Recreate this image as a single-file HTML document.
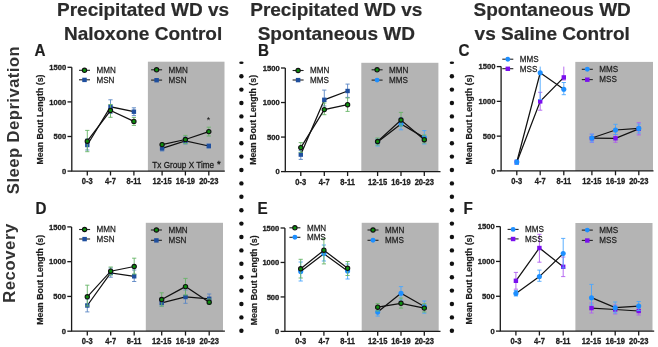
<!DOCTYPE html>
<html><head><meta charset="utf-8"><style>
html,body{margin:0;padding:0;background:#fff;width:658px;height:347px;overflow:hidden}
svg{display:block;will-change:transform;font-family:"Liberation Sans",sans-serif}
</style></head><body>
<svg width="658" height="347" viewBox="0 0 658 347">
<text x="143.1" y="15.9" font-size="19.0" font-weight="bold" text-anchor="middle" fill="#2b2b2b" stroke="#2b2b2b" stroke-width="0.2">Precipitated WD vs</text>
<text x="143.1" y="39.6" font-size="19.0" font-weight="bold" text-anchor="middle" fill="#2b2b2b" stroke="#2b2b2b" stroke-width="0.2">Naloxone Control</text>
<text x="336.3" y="15.9" font-size="19.0" font-weight="bold" text-anchor="middle" fill="#2b2b2b" stroke="#2b2b2b" stroke-width="0.2">Precipitated WD vs</text>
<text x="336.3" y="39.6" font-size="19.0" font-weight="bold" text-anchor="middle" fill="#2b2b2b" stroke="#2b2b2b" stroke-width="0.2">Spontaneous WD</text>
<text x="552.2" y="15.9" font-size="19.0" font-weight="bold" text-anchor="middle" fill="#2b2b2b" stroke="#2b2b2b" stroke-width="0.2">Spontaneous WD</text>
<text x="552.2" y="39.6" font-size="19.0" font-weight="bold" text-anchor="middle" fill="#2b2b2b" stroke="#2b2b2b" stroke-width="0.2">vs Saline Control</text>
<text transform="translate(18.8 120) rotate(-90)" font-size="16.6" letter-spacing="0.48" font-weight="bold" text-anchor="middle" fill="#333">Sleep Deprivation</text>
<text transform="translate(14.7 263.0) rotate(-90)" font-size="16.6" letter-spacing="0.62" font-weight="bold" text-anchor="middle" fill="#333">Recovery</text>
<text transform="translate(34.6 56.1) scale(0.93 1)" font-size="16.4" font-weight="bold" fill="#1e1e1e" stroke="#1e1e1e" stroke-width="0.2">A</text>
<text transform="translate(258.0 56.1) scale(0.93 1)" font-size="16.4" font-weight="bold" fill="#1e1e1e" stroke="#1e1e1e" stroke-width="0.2">B</text>
<text transform="translate(458.6 56.1) scale(0.93 1)" font-size="16.4" font-weight="bold" fill="#1e1e1e" stroke="#1e1e1e" stroke-width="0.2">C</text>
<text transform="translate(35.4 214.0) scale(0.93 1)" font-size="16.4" font-weight="bold" fill="#1e1e1e" stroke="#1e1e1e" stroke-width="0.2">D</text>
<text transform="translate(257.6 214.0) scale(0.93 1)" font-size="16.4" font-weight="bold" fill="#1e1e1e" stroke="#1e1e1e" stroke-width="0.2">E</text>
<text transform="translate(463.6 213.5) scale(0.93 1)" font-size="16.4" font-weight="bold" fill="#1e1e1e" stroke="#1e1e1e" stroke-width="0.2">F</text>
<rect x="147.9" y="61.7" width="76.6" height="109.39999999999999" fill="#b4b4b4"/>
<path d="M71.8 67.3 V171.1 H224.8" fill="none" stroke="#1a1a1a" stroke-width="1.3"/>
<line x1="67.5" y1="171.1" x2="71.8" y2="171.1" stroke="#1a1a1a" stroke-width="1.3"/>
<text x="66.2" y="173.79999999999998" font-size="7.6" font-weight="bold" text-anchor="end" fill="#1e1e1e" stroke="#1e1e1e" stroke-width="0.3">0</text>
<line x1="67.5" y1="136.5" x2="71.8" y2="136.5" stroke="#1a1a1a" stroke-width="1.3"/>
<text x="66.2" y="139.2" font-size="7.6" font-weight="bold" text-anchor="end" fill="#1e1e1e" stroke="#1e1e1e" stroke-width="0.3">500</text>
<line x1="67.5" y1="101.89999999999999" x2="71.8" y2="101.89999999999999" stroke="#1a1a1a" stroke-width="1.3"/>
<text x="66.2" y="104.6" font-size="7.6" font-weight="bold" text-anchor="end" fill="#1e1e1e" stroke="#1e1e1e" stroke-width="0.3">1000</text>
<line x1="67.5" y1="67.3" x2="71.8" y2="67.3" stroke="#1a1a1a" stroke-width="1.3"/>
<text x="66.2" y="70.0" font-size="7.6" font-weight="bold" text-anchor="end" fill="#1e1e1e" stroke="#1e1e1e" stroke-width="0.3">1500</text>
<line x1="87.3" y1="171.1" x2="87.3" y2="175.5" stroke="#1a1a1a" stroke-width="1.3"/>
<text transform="translate(87.3 184.1) scale(0.89 1)" font-size="8.5" font-weight="bold" text-anchor="middle" fill="#1e1e1e" stroke="#1e1e1e" stroke-width="0.3">0-3</text>
<line x1="110.5" y1="171.1" x2="110.5" y2="175.5" stroke="#1a1a1a" stroke-width="1.3"/>
<text transform="translate(110.5 184.1) scale(0.89 1)" font-size="8.5" font-weight="bold" text-anchor="middle" fill="#1e1e1e" stroke="#1e1e1e" stroke-width="0.3">4-7</text>
<line x1="133.9" y1="171.1" x2="133.9" y2="175.5" stroke="#1a1a1a" stroke-width="1.3"/>
<text transform="translate(133.9 184.1) scale(0.89 1)" font-size="8.5" font-weight="bold" text-anchor="middle" fill="#1e1e1e" stroke="#1e1e1e" stroke-width="0.3">8-11</text>
<line x1="162.1" y1="171.1" x2="162.1" y2="175.5" stroke="#1a1a1a" stroke-width="1.3"/>
<text transform="translate(162.1 184.1) scale(0.89 1)" font-size="8.5" font-weight="bold" text-anchor="middle" fill="#1e1e1e" stroke="#1e1e1e" stroke-width="0.3">12-15</text>
<line x1="185.4" y1="171.1" x2="185.4" y2="175.5" stroke="#1a1a1a" stroke-width="1.3"/>
<text transform="translate(185.4 184.1) scale(0.89 1)" font-size="8.5" font-weight="bold" text-anchor="middle" fill="#1e1e1e" stroke="#1e1e1e" stroke-width="0.3">16-19</text>
<line x1="208.8" y1="171.1" x2="208.8" y2="175.5" stroke="#1a1a1a" stroke-width="1.3"/>
<text transform="translate(208.8 184.1) scale(0.89 1)" font-size="8.5" font-weight="bold" text-anchor="middle" fill="#1e1e1e" stroke="#1e1e1e" stroke-width="0.3">20-23</text>
<text transform="translate(42.9 119.5) rotate(-90)" font-size="8.8" font-weight="bold" text-anchor="middle" fill="#1e1e1e" stroke="#1e1e1e" stroke-width="0.2">Mean Bout Length (s)</text>
<path d="M87.3 139 V150 M85.2 139 H89.39999999999999 M85.2 150 H89.39999999999999" stroke="#5a86c4" stroke-width="0.9" fill="none"/>
<path d="M110.5 99.8 V113.5 M108.4 99.8 H112.6 M108.4 113.5 H112.6" stroke="#5a86c4" stroke-width="0.9" fill="none"/>
<path d="M133.9 107.8 V115.6 M131.8 107.8 H136.0 M131.8 115.6 H136.0" stroke="#5a86c4" stroke-width="0.9" fill="none"/>
<path d="M162.1 146 V151 M160.0 146 H164.2 M160.0 151 H164.2" stroke="#5a86c4" stroke-width="0.9" fill="none"/>
<path d="M185.4 137 V144 M183.3 137 H187.5 M183.3 144 H187.5" stroke="#5a86c4" stroke-width="0.9" fill="none"/>
<path d="M208.8 144 V148 M206.70000000000002 144 H210.9 M206.70000000000002 148 H210.9" stroke="#5a86c4" stroke-width="0.9" fill="none"/>
<path d="M87.3 145.0 L110.5 106.8 L133.9 111.7 M162.1 148.4 L185.4 141.0 L208.8 146.0" stroke="#111" stroke-width="1.25" fill="none"/>
<rect x="85.1" y="142.8" width="4.4" height="4.4" fill="#1f4f9e"/>
<rect x="108.3" y="104.6" width="4.4" height="4.4" fill="#1f4f9e"/>
<rect x="131.70000000000002" y="109.5" width="4.4" height="4.4" fill="#1f4f9e"/>
<rect x="159.9" y="146.20000000000002" width="4.4" height="4.4" fill="#1f4f9e"/>
<rect x="183.20000000000002" y="138.8" width="4.4" height="4.4" fill="#1f4f9e"/>
<rect x="206.60000000000002" y="143.8" width="4.4" height="4.4" fill="#1f4f9e"/>
<path d="M87.3 130.4 V151.7 M85.2 130.4 H89.39999999999999 M85.2 151.7 H89.39999999999999" stroke="#66b466" stroke-width="0.9" fill="none"/>
<path d="M110.5 104.5 V117.3 M108.4 104.5 H112.6 M108.4 117.3 H112.6" stroke="#66b466" stroke-width="0.9" fill="none"/>
<path d="M133.9 117.4 V125.4 M131.8 117.4 H136.0 M131.8 125.4 H136.0" stroke="#66b466" stroke-width="0.9" fill="none"/>
<path d="M162.1 143 V146.5 M160.0 143 H164.2 M160.0 146.5 H164.2" stroke="#66b466" stroke-width="0.9" fill="none"/>
<path d="M185.4 135.4 V143.6 M183.3 135.4 H187.5 M183.3 143.6 H187.5" stroke="#66b466" stroke-width="0.9" fill="none"/>
<path d="M208.8 127.2 V136 M206.70000000000002 127.2 H210.9 M206.70000000000002 136 H210.9" stroke="#66b466" stroke-width="0.9" fill="none"/>
<path d="M87.3 141.2 L110.5 110.5 L133.9 121.4 M162.1 144.6 L185.4 139.5 L208.8 131.6" stroke="#111" stroke-width="1.25" fill="none"/>
<circle cx="87.3" cy="141.2" r="2.15" fill="#0c900c" stroke="#111" stroke-width="1.1"/>
<circle cx="110.5" cy="110.5" r="2.15" fill="#0c900c" stroke="#111" stroke-width="1.1"/>
<circle cx="133.9" cy="121.4" r="2.15" fill="#0c900c" stroke="#111" stroke-width="1.1"/>
<circle cx="162.1" cy="144.6" r="2.15" fill="#0c900c" stroke="#111" stroke-width="1.1"/>
<circle cx="185.4" cy="139.5" r="2.15" fill="#0c900c" stroke="#111" stroke-width="1.1"/>
<circle cx="208.8" cy="131.6" r="2.15" fill="#0c900c" stroke="#111" stroke-width="1.1"/>
<line x1="79.0" y1="70.3" x2="90.0" y2="70.3" stroke="#222" stroke-width="1.1"/>
<circle cx="84.5" cy="70.3" r="2.15" fill="#0c900c" stroke="#111" stroke-width="1.1"/>
<text transform="translate(96.5 73.1) scale(0.87 1)" font-size="9.3" fill="#222" stroke="#222" stroke-width="0.25">MMN</text>
<line x1="79.0" y1="79.8" x2="90.0" y2="79.8" stroke="#222" stroke-width="1.1"/>
<rect x="82.25" y="77.7" width="4.5" height="4.4" fill="#1f4f9e"/>
<text transform="translate(96.5 82.6) scale(0.87 1)" font-size="9.3" fill="#222" stroke="#222" stroke-width="0.25">MSN</text>
<line x1="151.1" y1="69.8" x2="162.1" y2="69.8" stroke="#222" stroke-width="1.1"/>
<circle cx="156.6" cy="69.8" r="2.15" fill="#0c900c" stroke="#111" stroke-width="1.1"/>
<text transform="translate(168.6 72.6) scale(0.87 1)" font-size="9.3" fill="#222" stroke="#222" stroke-width="0.25">MMN</text>
<line x1="151.1" y1="80.1" x2="162.1" y2="80.1" stroke="#222" stroke-width="1.1"/>
<rect x="154.35" y="78.0" width="4.5" height="4.4" fill="#1f4f9e"/>
<text transform="translate(168.6 82.89999999999999) scale(0.87 1)" font-size="9.3" fill="#222" stroke="#222" stroke-width="0.25">MSN</text>
<rect x="361.3" y="62.8" width="77.09999999999997" height="108.8" fill="#b4b4b4"/>
<path d="M285.3 68.0 V171.6 H440.5" fill="none" stroke="#1a1a1a" stroke-width="1.3"/>
<line x1="281.0" y1="171.6" x2="285.3" y2="171.6" stroke="#1a1a1a" stroke-width="1.3"/>
<text x="279.7" y="174.29999999999998" font-size="7.6" font-weight="bold" text-anchor="end" fill="#1e1e1e" stroke="#1e1e1e" stroke-width="0.3">0</text>
<line x1="281.0" y1="137.06666666666666" x2="285.3" y2="137.06666666666666" stroke="#1a1a1a" stroke-width="1.3"/>
<text x="279.7" y="139.76666666666665" font-size="7.6" font-weight="bold" text-anchor="end" fill="#1e1e1e" stroke="#1e1e1e" stroke-width="0.3">500</text>
<line x1="281.0" y1="102.53333333333333" x2="285.3" y2="102.53333333333333" stroke="#1a1a1a" stroke-width="1.3"/>
<text x="279.7" y="105.23333333333333" font-size="7.6" font-weight="bold" text-anchor="end" fill="#1e1e1e" stroke="#1e1e1e" stroke-width="0.3">1000</text>
<line x1="281.0" y1="68.0" x2="285.3" y2="68.0" stroke="#1a1a1a" stroke-width="1.3"/>
<text x="279.7" y="70.7" font-size="7.6" font-weight="bold" text-anchor="end" fill="#1e1e1e" stroke="#1e1e1e" stroke-width="0.3">1500</text>
<line x1="300.8" y1="171.6" x2="300.8" y2="176.0" stroke="#1a1a1a" stroke-width="1.3"/>
<text transform="translate(300.8 184.6) scale(0.89 1)" font-size="8.5" font-weight="bold" text-anchor="middle" fill="#1e1e1e" stroke="#1e1e1e" stroke-width="0.3">0-3</text>
<line x1="324.3" y1="171.6" x2="324.3" y2="176.0" stroke="#1a1a1a" stroke-width="1.3"/>
<text transform="translate(324.3 184.6) scale(0.89 1)" font-size="8.5" font-weight="bold" text-anchor="middle" fill="#1e1e1e" stroke="#1e1e1e" stroke-width="0.3">4-7</text>
<line x1="347.6" y1="171.6" x2="347.6" y2="176.0" stroke="#1a1a1a" stroke-width="1.3"/>
<text transform="translate(347.6 184.6) scale(0.89 1)" font-size="8.5" font-weight="bold" text-anchor="middle" fill="#1e1e1e" stroke="#1e1e1e" stroke-width="0.3">8-11</text>
<line x1="377.6" y1="171.6" x2="377.6" y2="176.0" stroke="#1a1a1a" stroke-width="1.3"/>
<text transform="translate(377.6 184.6) scale(0.89 1)" font-size="8.5" font-weight="bold" text-anchor="middle" fill="#1e1e1e" stroke="#1e1e1e" stroke-width="0.3">12-15</text>
<line x1="401.0" y1="171.6" x2="401.0" y2="176.0" stroke="#1a1a1a" stroke-width="1.3"/>
<text transform="translate(401.0 184.6) scale(0.89 1)" font-size="8.5" font-weight="bold" text-anchor="middle" fill="#1e1e1e" stroke="#1e1e1e" stroke-width="0.3">16-19</text>
<line x1="424.3" y1="171.6" x2="424.3" y2="176.0" stroke="#1a1a1a" stroke-width="1.3"/>
<text transform="translate(424.3 184.6) scale(0.89 1)" font-size="8.5" font-weight="bold" text-anchor="middle" fill="#1e1e1e" stroke="#1e1e1e" stroke-width="0.3">20-23</text>
<text transform="translate(256.4 119.9) rotate(-90)" font-size="8.8" font-weight="bold" text-anchor="middle" fill="#1e1e1e" stroke="#1e1e1e" stroke-width="0.2">Mean Bout Length (s)</text>
<path d="M300.8 150.5 V159.4 M298.7 150.5 H302.90000000000003 M298.7 159.4 H302.90000000000003" stroke="#5a86c4" stroke-width="0.9" fill="none"/>
<path d="M324.3 90.1 V106 M322.2 90.1 H326.40000000000003 M322.2 106 H326.40000000000003" stroke="#5a86c4" stroke-width="0.9" fill="none"/>
<path d="M347.6 84.1 V97.4 M345.5 84.1 H349.70000000000005 M345.5 97.4 H349.70000000000005" stroke="#5a86c4" stroke-width="0.9" fill="none"/>
<path d="M377.6 139 V146 M375.5 139 H379.70000000000005 M375.5 146 H379.70000000000005" stroke="#4aa6ff" stroke-width="0.9" fill="none"/>
<path d="M401.0 118 V129.8 M398.9 118 H403.1 M398.9 129.8 H403.1" stroke="#4aa6ff" stroke-width="0.9" fill="none"/>
<path d="M424.3 130.6 V144 M422.2 130.6 H426.40000000000003 M422.2 144 H426.40000000000003" stroke="#4aa6ff" stroke-width="0.9" fill="none"/>
<path d="M300.8 154.6 L324.3 99.8 L347.6 91.0 M377.6 142.0 L401.0 123.9 L424.3 137.6" stroke="#111" stroke-width="1.25" fill="none"/>
<rect x="298.6" y="152.4" width="4.4" height="4.4" fill="#1f4f9e"/>
<rect x="322.1" y="97.6" width="4.4" height="4.4" fill="#1f4f9e"/>
<rect x="345.40000000000003" y="88.8" width="4.4" height="4.4" fill="#1f4f9e"/>
<circle cx="377.6" cy="142.0" r="2.55" fill="#1e8fff"/>
<circle cx="401.0" cy="123.9" r="2.55" fill="#1e8fff"/>
<circle cx="424.3" cy="137.6" r="2.55" fill="#1e8fff"/>
<path d="M300.8 142.6 V152.3 M298.7 142.6 H302.90000000000003 M298.7 152.3 H302.90000000000003" stroke="#66b466" stroke-width="0.9" fill="none"/>
<path d="M324.3 103 V114.7 M322.2 103 H326.40000000000003 M322.2 114.7 H326.40000000000003" stroke="#66b466" stroke-width="0.9" fill="none"/>
<path d="M347.6 97.9 V111.4 M345.5 97.9 H349.70000000000005 M345.5 111.4 H349.70000000000005" stroke="#66b466" stroke-width="0.9" fill="none"/>
<path d="M377.6 138 V145 M375.5 138 H379.70000000000005 M375.5 145 H379.70000000000005" stroke="#66b466" stroke-width="0.9" fill="none"/>
<path d="M401.0 112.4 V126 M398.9 112.4 H403.1 M398.9 126 H403.1" stroke="#66b466" stroke-width="0.9" fill="none"/>
<path d="M424.3 135 V143 M422.2 135 H426.40000000000003 M422.2 143 H426.40000000000003" stroke="#66b466" stroke-width="0.9" fill="none"/>
<path d="M300.8 147.6 L324.3 109.6 L347.6 104.7 M377.6 141.5 L401.0 120.0 L424.3 139.7" stroke="#111" stroke-width="1.25" fill="none"/>
<circle cx="300.8" cy="147.6" r="2.15" fill="#0c900c" stroke="#111" stroke-width="1.1"/>
<circle cx="324.3" cy="109.6" r="2.15" fill="#0c900c" stroke="#111" stroke-width="1.1"/>
<circle cx="347.6" cy="104.7" r="2.15" fill="#0c900c" stroke="#111" stroke-width="1.1"/>
<circle cx="377.6" cy="141.5" r="2.15" fill="#0c900c" stroke="#111" stroke-width="1.1"/>
<circle cx="401.0" cy="120.0" r="2.15" fill="#0c900c" stroke="#111" stroke-width="1.1"/>
<circle cx="424.3" cy="139.7" r="2.15" fill="#0c900c" stroke="#111" stroke-width="1.1"/>
<line x1="292.6" y1="70.5" x2="303.6" y2="70.5" stroke="#222" stroke-width="1.1"/>
<circle cx="298.1" cy="70.5" r="2.15" fill="#0c900c" stroke="#111" stroke-width="1.1"/>
<text transform="translate(310.1 73.3) scale(0.87 1)" font-size="9.3" fill="#222" stroke="#222" stroke-width="0.25">MMN</text>
<line x1="292.6" y1="80.0" x2="303.6" y2="80.0" stroke="#222" stroke-width="1.1"/>
<rect x="295.85" y="77.9" width="4.5" height="4.4" fill="#1f4f9e"/>
<text transform="translate(310.1 82.8) scale(0.87 1)" font-size="9.3" fill="#222" stroke="#222" stroke-width="0.25">MMS</text>
<line x1="371.6" y1="69.8" x2="382.6" y2="69.8" stroke="#222" stroke-width="1.1"/>
<circle cx="377.1" cy="69.8" r="2.15" fill="#0c900c" stroke="#111" stroke-width="1.1"/>
<text transform="translate(389.1 72.6) scale(0.87 1)" font-size="9.3" fill="#222" stroke="#222" stroke-width="0.25">MMN</text>
<line x1="371.6" y1="80.1" x2="382.6" y2="80.1" stroke="#222" stroke-width="1.1"/>
<circle cx="377.1" cy="80.1" r="2.45" fill="#1e8fff"/>
<text transform="translate(389.1 82.89999999999999) scale(0.87 1)" font-size="9.3" fill="#222" stroke="#222" stroke-width="0.25">MMS</text>
<rect x="575.3" y="61.9" width="77.70000000000005" height="109.0" fill="#b4b4b4"/>
<path d="M501.1 66.6 V170.9 H653.5" fill="none" stroke="#1a1a1a" stroke-width="1.3"/>
<line x1="496.8" y1="170.9" x2="501.1" y2="170.9" stroke="#1a1a1a" stroke-width="1.3"/>
<text x="495.5" y="173.6" font-size="7.6" font-weight="bold" text-anchor="end" fill="#1e1e1e" stroke="#1e1e1e" stroke-width="0.3">0</text>
<line x1="496.8" y1="136.13333333333333" x2="501.1" y2="136.13333333333333" stroke="#1a1a1a" stroke-width="1.3"/>
<text x="495.5" y="138.83333333333331" font-size="7.6" font-weight="bold" text-anchor="end" fill="#1e1e1e" stroke="#1e1e1e" stroke-width="0.3">500</text>
<line x1="496.8" y1="101.36666666666666" x2="501.1" y2="101.36666666666666" stroke="#1a1a1a" stroke-width="1.3"/>
<text x="495.5" y="104.06666666666666" font-size="7.6" font-weight="bold" text-anchor="end" fill="#1e1e1e" stroke="#1e1e1e" stroke-width="0.3">1000</text>
<line x1="496.8" y1="66.59999999999998" x2="501.1" y2="66.59999999999998" stroke="#1a1a1a" stroke-width="1.3"/>
<text x="495.5" y="69.29999999999998" font-size="7.6" font-weight="bold" text-anchor="end" fill="#1e1e1e" stroke="#1e1e1e" stroke-width="0.3">1500</text>
<line x1="516.8" y1="170.9" x2="516.8" y2="175.3" stroke="#1a1a1a" stroke-width="1.3"/>
<text transform="translate(516.8 183.9) scale(0.89 1)" font-size="8.5" font-weight="bold" text-anchor="middle" fill="#1e1e1e" stroke="#1e1e1e" stroke-width="0.3">0-3</text>
<line x1="540.2" y1="170.9" x2="540.2" y2="175.3" stroke="#1a1a1a" stroke-width="1.3"/>
<text transform="translate(540.2 183.9) scale(0.89 1)" font-size="8.5" font-weight="bold" text-anchor="middle" fill="#1e1e1e" stroke="#1e1e1e" stroke-width="0.3">4-7</text>
<line x1="563.8" y1="170.9" x2="563.8" y2="175.3" stroke="#1a1a1a" stroke-width="1.3"/>
<text transform="translate(563.8 183.9) scale(0.89 1)" font-size="8.5" font-weight="bold" text-anchor="middle" fill="#1e1e1e" stroke="#1e1e1e" stroke-width="0.3">8-11</text>
<line x1="591.9" y1="170.9" x2="591.9" y2="175.3" stroke="#1a1a1a" stroke-width="1.3"/>
<text transform="translate(591.9 183.9) scale(0.89 1)" font-size="8.5" font-weight="bold" text-anchor="middle" fill="#1e1e1e" stroke="#1e1e1e" stroke-width="0.3">12-15</text>
<line x1="615.5" y1="170.9" x2="615.5" y2="175.3" stroke="#1a1a1a" stroke-width="1.3"/>
<text transform="translate(615.5 183.9) scale(0.89 1)" font-size="8.5" font-weight="bold" text-anchor="middle" fill="#1e1e1e" stroke="#1e1e1e" stroke-width="0.3">16-19</text>
<line x1="638.8" y1="170.9" x2="638.8" y2="175.3" stroke="#1a1a1a" stroke-width="1.3"/>
<text transform="translate(638.8 183.9) scale(0.89 1)" font-size="8.5" font-weight="bold" text-anchor="middle" fill="#1e1e1e" stroke="#1e1e1e" stroke-width="0.3">20-23</text>
<text transform="translate(472.4 119.6) rotate(-90)" font-size="8.8" font-weight="bold" text-anchor="middle" fill="#1e1e1e" stroke="#1e1e1e" stroke-width="0.2">Mean Bout Length (s)</text>
<path d="M516.8 160 V164.5 M514.6999999999999 160 H518.9 M514.6999999999999 164.5 H518.9" stroke="#b060f0" stroke-width="0.9" fill="none"/>
<path d="M540.2 92.3 V110.2 M538.1 92.3 H542.3000000000001 M538.1 110.2 H542.3000000000001" stroke="#b060f0" stroke-width="0.9" fill="none"/>
<path d="M563.8 66.6 V80 M561.6999999999999 80 H565.9" stroke="#b060f0" stroke-width="0.9" fill="none"/>
<path d="M591.9 134.2 V142.3 M589.8 134.2 H594.0 M589.8 142.3 H594.0" stroke="#b060f0" stroke-width="0.9" fill="none"/>
<path d="M615.5 134.5 V142.3 M613.4 134.5 H617.6 M613.4 142.3 H617.6" stroke="#b060f0" stroke-width="0.9" fill="none"/>
<path d="M638.8 122.7 V134.9 M636.6999999999999 122.7 H640.9 M636.6999999999999 134.9 H640.9" stroke="#b060f0" stroke-width="0.9" fill="none"/>
<path d="M516.8 162.2 L540.2 101.4 L563.8 77.4 M591.9 138.2 L615.5 138.3 L638.8 128.9" stroke="#111" stroke-width="1.25" fill="none"/>
<rect x="514.5999999999999" y="160.0" width="4.4" height="4.4" fill="#7a10ee"/>
<rect x="538.0" y="99.2" width="4.4" height="4.4" fill="#7a10ee"/>
<rect x="561.5999999999999" y="75.2" width="4.4" height="4.4" fill="#7a10ee"/>
<rect x="589.6999999999999" y="136.0" width="4.4" height="4.4" fill="#7a10ee"/>
<rect x="613.3" y="136.10000000000002" width="4.4" height="4.4" fill="#7a10ee"/>
<rect x="636.5999999999999" y="126.7" width="4.4" height="4.4" fill="#7a10ee"/>
<path d="M516.8 160 V164.5 M514.6999999999999 160 H518.9 M514.6999999999999 164.5 H518.9" stroke="#4aa6ff" stroke-width="0.9" fill="none"/>
<path d="M540.2 66.6 V99.5 M538.1 99.5 H542.3000000000001" stroke="#4aa6ff" stroke-width="0.9" fill="none"/>
<path d="M563.8 82.5 V94.7 M561.6999999999999 82.5 H565.9 M561.6999999999999 94.7 H565.9" stroke="#4aa6ff" stroke-width="0.9" fill="none"/>
<path d="M591.9 134.2 V142 M589.8 134.2 H594.0 M589.8 142 H594.0" stroke="#4aa6ff" stroke-width="0.9" fill="none"/>
<path d="M615.5 124.3 V134.5 M613.4 124.3 H617.6 M613.4 134.5 H617.6" stroke="#4aa6ff" stroke-width="0.9" fill="none"/>
<path d="M638.8 124 V133 M636.6999999999999 124 H640.9 M636.6999999999999 133 H640.9" stroke="#4aa6ff" stroke-width="0.9" fill="none"/>
<path d="M516.8 162.0 L540.2 72.8 L563.8 89.2 M591.9 138.0 L615.5 130.0 L638.8 128.4" stroke="#111" stroke-width="1.25" fill="none"/>
<circle cx="516.8" cy="162.0" r="2.55" fill="#1e8fff"/>
<circle cx="540.2" cy="72.8" r="2.55" fill="#1e8fff"/>
<circle cx="563.8" cy="89.2" r="2.55" fill="#1e8fff"/>
<circle cx="591.9" cy="138.0" r="2.55" fill="#1e8fff"/>
<circle cx="615.5" cy="130.0" r="2.55" fill="#1e8fff"/>
<circle cx="638.8" cy="128.4" r="2.55" fill="#1e8fff"/>
<line x1="502.3" y1="59.2" x2="513.3" y2="59.2" stroke="#222" stroke-width="1.1"/>
<circle cx="507.8" cy="59.2" r="2.45" fill="#1e8fff"/>
<text transform="translate(519.8 62.0) scale(0.87 1)" font-size="9.3" fill="#222" stroke="#222" stroke-width="0.25">MMS</text>
<line x1="502.3" y1="68.7" x2="513.3" y2="68.7" stroke="#222" stroke-width="1.1"/>
<rect x="505.55" y="66.60000000000001" width="4.5" height="4.4" fill="#7a10ee"/>
<text transform="translate(519.8 71.5) scale(0.87 1)" font-size="9.3" fill="#222" stroke="#222" stroke-width="0.25">MSS</text>
<line x1="581.8" y1="69.3" x2="592.8" y2="69.3" stroke="#222" stroke-width="1.1"/>
<circle cx="587.3" cy="69.3" r="2.45" fill="#1e8fff"/>
<text transform="translate(599.3 72.1) scale(0.87 1)" font-size="9.3" fill="#222" stroke="#222" stroke-width="0.25">MMS</text>
<line x1="581.8" y1="79.6" x2="592.8" y2="79.6" stroke="#222" stroke-width="1.1"/>
<rect x="585.05" y="77.5" width="4.5" height="4.4" fill="#7a10ee"/>
<text transform="translate(599.3 82.39999999999999) scale(0.87 1)" font-size="9.3" fill="#222" stroke="#222" stroke-width="0.25">MSS</text>
<rect x="145.8" y="222.8" width="77.19999999999999" height="108.39999999999998" fill="#b4b4b4"/>
<path d="M71.6 226.9 V331.2 H224.9" fill="none" stroke="#1a1a1a" stroke-width="1.3"/>
<line x1="67.3" y1="331.2" x2="71.6" y2="331.2" stroke="#1a1a1a" stroke-width="1.3"/>
<text x="66.0" y="333.9" font-size="7.6" font-weight="bold" text-anchor="end" fill="#1e1e1e" stroke="#1e1e1e" stroke-width="0.3">0</text>
<line x1="67.3" y1="296.43333333333334" x2="71.6" y2="296.43333333333334" stroke="#1a1a1a" stroke-width="1.3"/>
<text x="66.0" y="299.1333333333333" font-size="7.6" font-weight="bold" text-anchor="end" fill="#1e1e1e" stroke="#1e1e1e" stroke-width="0.3">500</text>
<line x1="67.3" y1="261.6666666666667" x2="71.6" y2="261.6666666666667" stroke="#1a1a1a" stroke-width="1.3"/>
<text x="66.0" y="264.3666666666667" font-size="7.6" font-weight="bold" text-anchor="end" fill="#1e1e1e" stroke="#1e1e1e" stroke-width="0.3">1000</text>
<line x1="67.3" y1="226.9" x2="71.6" y2="226.9" stroke="#1a1a1a" stroke-width="1.3"/>
<text x="66.0" y="229.6" font-size="7.6" font-weight="bold" text-anchor="end" fill="#1e1e1e" stroke="#1e1e1e" stroke-width="0.3">1500</text>
<line x1="87.3" y1="331.2" x2="87.3" y2="335.59999999999997" stroke="#1a1a1a" stroke-width="1.3"/>
<text transform="translate(87.3 344.2) scale(0.89 1)" font-size="8.5" font-weight="bold" text-anchor="middle" fill="#1e1e1e" stroke="#1e1e1e" stroke-width="0.3">0-3</text>
<line x1="110.7" y1="331.2" x2="110.7" y2="335.59999999999997" stroke="#1a1a1a" stroke-width="1.3"/>
<text transform="translate(110.7 344.2) scale(0.89 1)" font-size="8.5" font-weight="bold" text-anchor="middle" fill="#1e1e1e" stroke="#1e1e1e" stroke-width="0.3">4-7</text>
<line x1="134.2" y1="331.2" x2="134.2" y2="335.59999999999997" stroke="#1a1a1a" stroke-width="1.3"/>
<text transform="translate(134.2 344.2) scale(0.89 1)" font-size="8.5" font-weight="bold" text-anchor="middle" fill="#1e1e1e" stroke="#1e1e1e" stroke-width="0.3">8-11</text>
<line x1="161.7" y1="331.2" x2="161.7" y2="335.59999999999997" stroke="#1a1a1a" stroke-width="1.3"/>
<text transform="translate(161.7 344.2) scale(0.89 1)" font-size="8.5" font-weight="bold" text-anchor="middle" fill="#1e1e1e" stroke="#1e1e1e" stroke-width="0.3">12-15</text>
<line x1="185.5" y1="331.2" x2="185.5" y2="335.59999999999997" stroke="#1a1a1a" stroke-width="1.3"/>
<text transform="translate(185.5 344.2) scale(0.89 1)" font-size="8.5" font-weight="bold" text-anchor="middle" fill="#1e1e1e" stroke="#1e1e1e" stroke-width="0.3">16-19</text>
<line x1="209.2" y1="331.2" x2="209.2" y2="335.59999999999997" stroke="#1a1a1a" stroke-width="1.3"/>
<text transform="translate(209.2 344.2) scale(0.89 1)" font-size="8.5" font-weight="bold" text-anchor="middle" fill="#1e1e1e" stroke="#1e1e1e" stroke-width="0.3">20-23</text>
<text transform="translate(42.9 279.8) rotate(-90)" font-size="8.8" font-weight="bold" text-anchor="middle" fill="#1e1e1e" stroke="#1e1e1e" stroke-width="0.2">Mean Bout Length (s)</text>
<path d="M87.3 299 V311.9 M85.2 299 H89.39999999999999 M85.2 311.9 H89.39999999999999" stroke="#5a86c4" stroke-width="0.9" fill="none"/>
<path d="M110.7 268 V277.2 M108.60000000000001 268 H112.8 M108.60000000000001 277.2 H112.8" stroke="#5a86c4" stroke-width="0.9" fill="none"/>
<path d="M134.2 270 V281.5 M132.1 270 H136.29999999999998 M132.1 281.5 H136.29999999999998" stroke="#5a86c4" stroke-width="0.9" fill="none"/>
<path d="M161.7 298 V306.1 M159.6 298 H163.79999999999998 M159.6 306.1 H163.79999999999998" stroke="#5a86c4" stroke-width="0.9" fill="none"/>
<path d="M185.5 290 V303.3 M183.4 290 H187.6 M183.4 303.3 H187.6" stroke="#5a86c4" stroke-width="0.9" fill="none"/>
<path d="M209.2 294 V303 M207.1 294 H211.29999999999998 M207.1 303 H211.29999999999998" stroke="#5a86c4" stroke-width="0.9" fill="none"/>
<path d="M87.3 305.5 L110.7 272.9 L134.2 276.3 M161.7 302.8 L185.5 297.0 L209.2 298.8" stroke="#111" stroke-width="1.25" fill="none"/>
<rect x="85.1" y="303.3" width="4.4" height="4.4" fill="#1f4f9e"/>
<rect x="108.5" y="270.7" width="4.4" height="4.4" fill="#1f4f9e"/>
<rect x="132.0" y="274.1" width="4.4" height="4.4" fill="#1f4f9e"/>
<rect x="159.5" y="300.6" width="4.4" height="4.4" fill="#1f4f9e"/>
<rect x="183.3" y="294.8" width="4.4" height="4.4" fill="#1f4f9e"/>
<rect x="207.0" y="296.6" width="4.4" height="4.4" fill="#1f4f9e"/>
<path d="M87.3 285.2 V306 M85.2 285.2 H89.39999999999999 M85.2 306 H89.39999999999999" stroke="#66b466" stroke-width="0.9" fill="none"/>
<path d="M110.7 267 V275 M108.60000000000001 267 H112.8 M108.60000000000001 275 H112.8" stroke="#66b466" stroke-width="0.9" fill="none"/>
<path d="M134.2 258.2 V274 M132.1 258.2 H136.29999999999998 M132.1 274 H136.29999999999998" stroke="#66b466" stroke-width="0.9" fill="none"/>
<path d="M161.7 292.8 V306.1 M159.6 292.8 H163.79999999999998 M159.6 306.1 H163.79999999999998" stroke="#66b466" stroke-width="0.9" fill="none"/>
<path d="M185.5 278.4 V295 M183.4 278.4 H187.6 M183.4 295 H187.6" stroke="#66b466" stroke-width="0.9" fill="none"/>
<path d="M209.2 299 V304.5 M207.1 299 H211.29999999999998 M207.1 304.5 H211.29999999999998" stroke="#66b466" stroke-width="0.9" fill="none"/>
<path d="M87.3 296.8 L110.7 271.2 L134.2 266.5 M161.7 299.5 L185.5 286.6 L209.2 302.2" stroke="#111" stroke-width="1.25" fill="none"/>
<circle cx="87.3" cy="296.8" r="2.15" fill="#0c900c" stroke="#111" stroke-width="1.1"/>
<circle cx="110.7" cy="271.2" r="2.15" fill="#0c900c" stroke="#111" stroke-width="1.1"/>
<circle cx="134.2" cy="266.5" r="2.15" fill="#0c900c" stroke="#111" stroke-width="1.1"/>
<circle cx="161.7" cy="299.5" r="2.15" fill="#0c900c" stroke="#111" stroke-width="1.1"/>
<circle cx="185.5" cy="286.6" r="2.15" fill="#0c900c" stroke="#111" stroke-width="1.1"/>
<circle cx="209.2" cy="302.2" r="2.15" fill="#0c900c" stroke="#111" stroke-width="1.1"/>
<line x1="79.1" y1="229.5" x2="90.1" y2="229.5" stroke="#222" stroke-width="1.1"/>
<circle cx="84.6" cy="229.5" r="2.15" fill="#0c900c" stroke="#111" stroke-width="1.1"/>
<text transform="translate(96.6 232.3) scale(0.87 1)" font-size="9.3" fill="#222" stroke="#222" stroke-width="0.25">MMN</text>
<line x1="79.1" y1="239.0" x2="90.1" y2="239.0" stroke="#222" stroke-width="1.1"/>
<rect x="82.35" y="236.9" width="4.5" height="4.4" fill="#1f4f9e"/>
<text transform="translate(96.6 241.8) scale(0.87 1)" font-size="9.3" fill="#222" stroke="#222" stroke-width="0.25">MSN</text>
<line x1="150.9" y1="230.0" x2="161.9" y2="230.0" stroke="#222" stroke-width="1.1"/>
<circle cx="156.4" cy="230.0" r="2.15" fill="#0c900c" stroke="#111" stroke-width="1.1"/>
<text transform="translate(168.4 232.8) scale(0.87 1)" font-size="9.3" fill="#222" stroke="#222" stroke-width="0.25">MMN</text>
<line x1="150.9" y1="240.3" x2="161.9" y2="240.3" stroke="#222" stroke-width="1.1"/>
<rect x="154.15" y="238.20000000000002" width="4.5" height="4.4" fill="#1f4f9e"/>
<text transform="translate(168.4 243.10000000000002) scale(0.87 1)" font-size="9.3" fill="#222" stroke="#222" stroke-width="0.25">MSN</text>
<rect x="361.7" y="222.8" width="77.0" height="108.59999999999997" fill="#b4b4b4"/>
<path d="M284.9 228.0 V331.4 H440.5" fill="none" stroke="#1a1a1a" stroke-width="1.3"/>
<line x1="280.59999999999997" y1="331.4" x2="284.9" y2="331.4" stroke="#1a1a1a" stroke-width="1.3"/>
<text x="279.29999999999995" y="334.09999999999997" font-size="7.6" font-weight="bold" text-anchor="end" fill="#1e1e1e" stroke="#1e1e1e" stroke-width="0.3">0</text>
<line x1="280.59999999999997" y1="296.93333333333334" x2="284.9" y2="296.93333333333334" stroke="#1a1a1a" stroke-width="1.3"/>
<text x="279.29999999999995" y="299.6333333333333" font-size="7.6" font-weight="bold" text-anchor="end" fill="#1e1e1e" stroke="#1e1e1e" stroke-width="0.3">500</text>
<line x1="280.59999999999997" y1="262.4666666666667" x2="284.9" y2="262.4666666666667" stroke="#1a1a1a" stroke-width="1.3"/>
<text x="279.29999999999995" y="265.1666666666667" font-size="7.6" font-weight="bold" text-anchor="end" fill="#1e1e1e" stroke="#1e1e1e" stroke-width="0.3">1000</text>
<line x1="280.59999999999997" y1="228.0" x2="284.9" y2="228.0" stroke="#1a1a1a" stroke-width="1.3"/>
<text x="279.29999999999995" y="230.7" font-size="7.6" font-weight="bold" text-anchor="end" fill="#1e1e1e" stroke="#1e1e1e" stroke-width="0.3">1500</text>
<line x1="300.7" y1="331.4" x2="300.7" y2="335.79999999999995" stroke="#1a1a1a" stroke-width="1.3"/>
<text transform="translate(300.7 344.4) scale(0.89 1)" font-size="8.5" font-weight="bold" text-anchor="middle" fill="#1e1e1e" stroke="#1e1e1e" stroke-width="0.3">0-3</text>
<line x1="323.9" y1="331.4" x2="323.9" y2="335.79999999999995" stroke="#1a1a1a" stroke-width="1.3"/>
<text transform="translate(323.9 344.4) scale(0.89 1)" font-size="8.5" font-weight="bold" text-anchor="middle" fill="#1e1e1e" stroke="#1e1e1e" stroke-width="0.3">4-7</text>
<line x1="347.6" y1="331.4" x2="347.6" y2="335.79999999999995" stroke="#1a1a1a" stroke-width="1.3"/>
<text transform="translate(347.6 344.4) scale(0.89 1)" font-size="8.5" font-weight="bold" text-anchor="middle" fill="#1e1e1e" stroke="#1e1e1e" stroke-width="0.3">8-11</text>
<line x1="377.7" y1="331.4" x2="377.7" y2="335.79999999999995" stroke="#1a1a1a" stroke-width="1.3"/>
<text transform="translate(377.7 344.4) scale(0.89 1)" font-size="8.5" font-weight="bold" text-anchor="middle" fill="#1e1e1e" stroke="#1e1e1e" stroke-width="0.3">12-15</text>
<line x1="401.0" y1="331.4" x2="401.0" y2="335.79999999999995" stroke="#1a1a1a" stroke-width="1.3"/>
<text transform="translate(401.0 344.4) scale(0.89 1)" font-size="8.5" font-weight="bold" text-anchor="middle" fill="#1e1e1e" stroke="#1e1e1e" stroke-width="0.3">16-19</text>
<line x1="424.3" y1="331.4" x2="424.3" y2="335.79999999999995" stroke="#1a1a1a" stroke-width="1.3"/>
<text transform="translate(424.3 344.4) scale(0.89 1)" font-size="8.5" font-weight="bold" text-anchor="middle" fill="#1e1e1e" stroke="#1e1e1e" stroke-width="0.3">20-23</text>
<text transform="translate(256.6 280.3) rotate(-90)" font-size="8.8" font-weight="bold" text-anchor="middle" fill="#1e1e1e" stroke="#1e1e1e" stroke-width="0.2">Mean Bout Length (s)</text>
<path d="M300.7 262 V281 M298.59999999999997 262 H302.8 M298.59999999999997 281 H302.8" stroke="#4aa6ff" stroke-width="0.9" fill="none"/>
<path d="M323.9 245 V261 M321.79999999999995 245 H326.0 M321.79999999999995 261 H326.0" stroke="#4aa6ff" stroke-width="0.9" fill="none"/>
<path d="M347.6 264 V279 M345.5 264 H349.70000000000005 M345.5 279 H349.70000000000005" stroke="#4aa6ff" stroke-width="0.9" fill="none"/>
<path d="M377.7 307 V316.1 M375.59999999999997 307 H379.8 M375.59999999999997 316.1 H379.8" stroke="#4aa6ff" stroke-width="0.9" fill="none"/>
<path d="M401.0 286.6 V300 M398.9 286.6 H403.1 M398.9 300 H403.1" stroke="#4aa6ff" stroke-width="0.9" fill="none"/>
<path d="M424.3 301 V313.2 M422.2 301 H426.40000000000003 M422.2 313.2 H426.40000000000003" stroke="#4aa6ff" stroke-width="0.9" fill="none"/>
<path d="M300.7 271.5 L323.9 253.8 L347.6 271.0 M377.7 312.1 L401.0 293.3 L424.3 306.5" stroke="#111" stroke-width="1.25" fill="none"/>
<circle cx="300.7" cy="271.5" r="2.55" fill="#1e8fff"/>
<circle cx="323.9" cy="253.8" r="2.55" fill="#1e8fff"/>
<circle cx="347.6" cy="271.0" r="2.55" fill="#1e8fff"/>
<circle cx="377.7" cy="312.1" r="2.55" fill="#1e8fff"/>
<circle cx="401.0" cy="293.3" r="2.55" fill="#1e8fff"/>
<circle cx="424.3" cy="306.5" r="2.55" fill="#1e8fff"/>
<path d="M300.7 259.3 V278 M298.59999999999997 259.3 H302.8 M298.59999999999997 278 H302.8" stroke="#66b466" stroke-width="0.9" fill="none"/>
<path d="M323.9 238.7 V263.9 M321.79999999999995 238.7 H326.0 M321.79999999999995 263.9 H326.0" stroke="#66b466" stroke-width="0.9" fill="none"/>
<path d="M347.6 261.5 V275.5 M345.5 261.5 H349.70000000000005 M345.5 275.5 H349.70000000000005" stroke="#66b466" stroke-width="0.9" fill="none"/>
<path d="M377.7 303.7 V311 M375.59999999999997 303.7 H379.8 M375.59999999999997 311 H379.8" stroke="#66b466" stroke-width="0.9" fill="none"/>
<path d="M401.0 298 V308.1 M398.9 298 H403.1 M398.9 308.1 H403.1" stroke="#66b466" stroke-width="0.9" fill="none"/>
<path d="M424.3 303.7 V312 M422.2 303.7 H426.40000000000003 M422.2 312 H426.40000000000003" stroke="#66b466" stroke-width="0.9" fill="none"/>
<path d="M300.7 268.8 L323.9 250.2 L347.6 268.3 M377.7 307.2 L401.0 303.3 L424.3 308.1" stroke="#111" stroke-width="1.25" fill="none"/>
<circle cx="300.7" cy="268.8" r="2.15" fill="#0c900c" stroke="#111" stroke-width="1.1"/>
<circle cx="323.9" cy="250.2" r="2.15" fill="#0c900c" stroke="#111" stroke-width="1.1"/>
<circle cx="347.6" cy="268.3" r="2.15" fill="#0c900c" stroke="#111" stroke-width="1.1"/>
<circle cx="377.7" cy="307.2" r="2.15" fill="#0c900c" stroke="#111" stroke-width="1.1"/>
<circle cx="401.0" cy="303.3" r="2.15" fill="#0c900c" stroke="#111" stroke-width="1.1"/>
<circle cx="424.3" cy="308.1" r="2.15" fill="#0c900c" stroke="#111" stroke-width="1.1"/>
<line x1="289.4" y1="227.8" x2="300.4" y2="227.8" stroke="#222" stroke-width="1.1"/>
<circle cx="294.9" cy="227.8" r="2.15" fill="#0c900c" stroke="#111" stroke-width="1.1"/>
<text transform="translate(306.9 230.60000000000002) scale(0.87 1)" font-size="9.3" fill="#222" stroke="#222" stroke-width="0.25">MMN</text>
<line x1="289.4" y1="237.3" x2="300.4" y2="237.3" stroke="#222" stroke-width="1.1"/>
<circle cx="294.9" cy="237.3" r="2.45" fill="#1e8fff"/>
<text transform="translate(306.9 240.10000000000002) scale(0.87 1)" font-size="9.3" fill="#222" stroke="#222" stroke-width="0.25">MMS</text>
<line x1="367.5" y1="230.0" x2="378.5" y2="230.0" stroke="#222" stroke-width="1.1"/>
<circle cx="373.0" cy="230.0" r="2.15" fill="#0c900c" stroke="#111" stroke-width="1.1"/>
<text transform="translate(385.0 232.8) scale(0.87 1)" font-size="9.3" fill="#222" stroke="#222" stroke-width="0.25">MMN</text>
<line x1="367.5" y1="240.3" x2="378.5" y2="240.3" stroke="#222" stroke-width="1.1"/>
<circle cx="373.0" cy="240.3" r="2.45" fill="#1e8fff"/>
<text transform="translate(385.0 243.10000000000002) scale(0.87 1)" font-size="9.3" fill="#222" stroke="#222" stroke-width="0.25">MMS</text>
<rect x="575.4" y="223.0" width="77.10000000000002" height="108.10000000000002" fill="#b4b4b4"/>
<path d="M500.3 226.6 V331.1 H654.2" fill="none" stroke="#1a1a1a" stroke-width="1.3"/>
<line x1="496.0" y1="331.1" x2="500.3" y2="331.1" stroke="#1a1a1a" stroke-width="1.3"/>
<text x="494.7" y="333.8" font-size="7.6" font-weight="bold" text-anchor="end" fill="#1e1e1e" stroke="#1e1e1e" stroke-width="0.3">0</text>
<line x1="496.0" y1="296.26666666666665" x2="500.3" y2="296.26666666666665" stroke="#1a1a1a" stroke-width="1.3"/>
<text x="494.7" y="298.96666666666664" font-size="7.6" font-weight="bold" text-anchor="end" fill="#1e1e1e" stroke="#1e1e1e" stroke-width="0.3">500</text>
<line x1="496.0" y1="261.43333333333334" x2="500.3" y2="261.43333333333334" stroke="#1a1a1a" stroke-width="1.3"/>
<text x="494.7" y="264.1333333333333" font-size="7.6" font-weight="bold" text-anchor="end" fill="#1e1e1e" stroke="#1e1e1e" stroke-width="0.3">1000</text>
<line x1="496.0" y1="226.60000000000002" x2="500.3" y2="226.60000000000002" stroke="#1a1a1a" stroke-width="1.3"/>
<text x="494.7" y="229.3" font-size="7.6" font-weight="bold" text-anchor="end" fill="#1e1e1e" stroke="#1e1e1e" stroke-width="0.3">1500</text>
<line x1="515.9" y1="331.1" x2="515.9" y2="335.5" stroke="#1a1a1a" stroke-width="1.3"/>
<text transform="translate(515.9 344.1) scale(0.89 1)" font-size="8.5" font-weight="bold" text-anchor="middle" fill="#1e1e1e" stroke="#1e1e1e" stroke-width="0.3">0-3</text>
<line x1="539.4" y1="331.1" x2="539.4" y2="335.5" stroke="#1a1a1a" stroke-width="1.3"/>
<text transform="translate(539.4 344.1) scale(0.89 1)" font-size="8.5" font-weight="bold" text-anchor="middle" fill="#1e1e1e" stroke="#1e1e1e" stroke-width="0.3">4-7</text>
<line x1="563.2" y1="331.1" x2="563.2" y2="335.5" stroke="#1a1a1a" stroke-width="1.3"/>
<text transform="translate(563.2 344.1) scale(0.89 1)" font-size="8.5" font-weight="bold" text-anchor="middle" fill="#1e1e1e" stroke="#1e1e1e" stroke-width="0.3">8-11</text>
<line x1="591.5" y1="331.1" x2="591.5" y2="335.5" stroke="#1a1a1a" stroke-width="1.3"/>
<text transform="translate(591.5 344.1) scale(0.89 1)" font-size="8.5" font-weight="bold" text-anchor="middle" fill="#1e1e1e" stroke="#1e1e1e" stroke-width="0.3">12-15</text>
<line x1="615.2" y1="331.1" x2="615.2" y2="335.5" stroke="#1a1a1a" stroke-width="1.3"/>
<text transform="translate(615.2 344.1) scale(0.89 1)" font-size="8.5" font-weight="bold" text-anchor="middle" fill="#1e1e1e" stroke="#1e1e1e" stroke-width="0.3">16-19</text>
<line x1="638.7" y1="331.1" x2="638.7" y2="335.5" stroke="#1a1a1a" stroke-width="1.3"/>
<text transform="translate(638.7 344.1) scale(0.89 1)" font-size="8.5" font-weight="bold" text-anchor="middle" fill="#1e1e1e" stroke="#1e1e1e" stroke-width="0.3">20-23</text>
<text transform="translate(472.0 279.55) rotate(-90)" font-size="8.8" font-weight="bold" text-anchor="middle" fill="#1e1e1e" stroke="#1e1e1e" stroke-width="0.2">Mean Bout Length (s)</text>
<path d="M515.9 272.4 V289.2 M513.8 272.4 H518.0 M513.8 289.2 H518.0" stroke="#b060f0" stroke-width="0.9" fill="none"/>
<path d="M539.4 234.3 V262.2 M537.3 234.3 H541.5 M537.3 262.2 H541.5" stroke="#b060f0" stroke-width="0.9" fill="none"/>
<path d="M563.2 257 V276.6 M561.1 257 H565.3000000000001 M561.1 276.6 H565.3000000000001" stroke="#b060f0" stroke-width="0.9" fill="none"/>
<path d="M591.5 303 V313 M589.4 303 H593.6 M589.4 313 H593.6" stroke="#b060f0" stroke-width="0.9" fill="none"/>
<path d="M615.2 305 V314 M613.1 305 H617.3000000000001 M613.1 314 H617.3000000000001" stroke="#b060f0" stroke-width="0.9" fill="none"/>
<path d="M638.7 307 V315 M636.6 307 H640.8000000000001 M636.6 315 H640.8000000000001" stroke="#b060f0" stroke-width="0.9" fill="none"/>
<path d="M515.9 280.8 L539.4 248.0 L563.2 266.8 M591.5 308.1 L615.2 309.5 L638.7 311.0" stroke="#111" stroke-width="1.25" fill="none"/>
<rect x="513.6999999999999" y="278.6" width="4.4" height="4.4" fill="#7a10ee"/>
<rect x="537.1999999999999" y="245.8" width="4.4" height="4.4" fill="#7a10ee"/>
<rect x="561.0" y="264.6" width="4.4" height="4.4" fill="#7a10ee"/>
<rect x="589.3" y="305.90000000000003" width="4.4" height="4.4" fill="#7a10ee"/>
<rect x="613.0" y="307.3" width="4.4" height="4.4" fill="#7a10ee"/>
<rect x="636.5" y="308.8" width="4.4" height="4.4" fill="#7a10ee"/>
<path d="M515.9 290.5 V296 M513.8 290.5 H518.0 M513.8 296 H518.0" stroke="#4aa6ff" stroke-width="0.9" fill="none"/>
<path d="M539.4 270.1 V281.3 M537.3 270.1 H541.5 M537.3 281.3 H541.5" stroke="#4aa6ff" stroke-width="0.9" fill="none"/>
<path d="M563.2 238.4 V268 M561.1 238.4 H565.3000000000001 M561.1 268 H565.3000000000001" stroke="#4aa6ff" stroke-width="0.9" fill="none"/>
<path d="M591.5 284.4 V305 M589.4 284.4 H593.6 M589.4 305 H593.6" stroke="#4aa6ff" stroke-width="0.9" fill="none"/>
<path d="M615.2 302 V313 M613.1 302 H617.3000000000001 M613.1 313 H617.3000000000001" stroke="#4aa6ff" stroke-width="0.9" fill="none"/>
<path d="M638.7 301.5 V310.5 M636.6 301.5 H640.8000000000001 M636.6 310.5 H640.8000000000001" stroke="#4aa6ff" stroke-width="0.9" fill="none"/>
<path d="M515.9 293.4 L539.4 276.6 L563.2 253.6 M591.5 297.7 L615.2 307.7 L638.7 306.1" stroke="#111" stroke-width="1.25" fill="none"/>
<circle cx="515.9" cy="293.4" r="2.55" fill="#1e8fff"/>
<circle cx="539.4" cy="276.6" r="2.55" fill="#1e8fff"/>
<circle cx="563.2" cy="253.6" r="2.55" fill="#1e8fff"/>
<circle cx="591.5" cy="297.7" r="2.55" fill="#1e8fff"/>
<circle cx="615.2" cy="307.7" r="2.55" fill="#1e8fff"/>
<circle cx="638.7" cy="306.1" r="2.55" fill="#1e8fff"/>
<line x1="507.6" y1="229.4" x2="518.6" y2="229.4" stroke="#222" stroke-width="1.1"/>
<circle cx="513.1" cy="229.4" r="2.45" fill="#1e8fff"/>
<text transform="translate(525.1 232.20000000000002) scale(0.87 1)" font-size="9.3" fill="#222" stroke="#222" stroke-width="0.25">MMS</text>
<line x1="507.6" y1="238.9" x2="518.6" y2="238.9" stroke="#222" stroke-width="1.1"/>
<rect x="510.85" y="236.8" width="4.5" height="4.4" fill="#7a10ee"/>
<text transform="translate(525.1 241.70000000000002) scale(0.87 1)" font-size="9.3" fill="#222" stroke="#222" stroke-width="0.25">MSS</text>
<line x1="581.8" y1="230.1" x2="592.8" y2="230.1" stroke="#222" stroke-width="1.1"/>
<circle cx="587.3" cy="230.1" r="2.45" fill="#1e8fff"/>
<text transform="translate(599.3 232.9) scale(0.87 1)" font-size="9.3" fill="#222" stroke="#222" stroke-width="0.25">MMS</text>
<line x1="581.8" y1="240.4" x2="592.8" y2="240.4" stroke="#222" stroke-width="1.1"/>
<rect x="585.05" y="238.3" width="4.5" height="4.4" fill="#7a10ee"/>
<text transform="translate(599.3 243.20000000000002) scale(0.87 1)" font-size="9.3" fill="#222" stroke="#222" stroke-width="0.25">MSS</text>
<ellipse cx="241.4" cy="62.8" rx="2.2" ry="1.3" fill="#111"/>
<circle cx="241.4" cy="76.2" r="2.2" fill="#111"/>
<circle cx="241.4" cy="89.6" r="2.2" fill="#111"/>
<circle cx="241.4" cy="103.0" r="2.2" fill="#111"/>
<circle cx="241.4" cy="116.4" r="2.2" fill="#111"/>
<circle cx="241.4" cy="129.8" r="2.2" fill="#111"/>
<circle cx="241.4" cy="143.2" r="2.2" fill="#111"/>
<circle cx="241.4" cy="156.6" r="2.2" fill="#111"/>
<circle cx="241.4" cy="170.0" r="2.2" fill="#111"/>
<circle cx="241.4" cy="183.4" r="2.2" fill="#111"/>
<circle cx="241.4" cy="196.8" r="2.2" fill="#111"/>
<circle cx="241.4" cy="210.2" r="2.2" fill="#111"/>
<circle cx="241.4" cy="223.6" r="2.2" fill="#111"/>
<circle cx="241.4" cy="237.0" r="2.2" fill="#111"/>
<circle cx="241.4" cy="250.4" r="2.2" fill="#111"/>
<circle cx="241.4" cy="263.8" r="2.2" fill="#111"/>
<circle cx="241.4" cy="277.2" r="2.2" fill="#111"/>
<circle cx="241.4" cy="290.6" r="2.2" fill="#111"/>
<circle cx="241.4" cy="304.0" r="2.2" fill="#111"/>
<circle cx="241.4" cy="317.4" r="2.2" fill="#111"/>
<circle cx="241.4" cy="330.8" r="2.2" fill="#111"/>
<ellipse cx="451.9" cy="62.8" rx="2.2" ry="1.3" fill="#111"/>
<circle cx="451.9" cy="76.2" r="2.2" fill="#111"/>
<circle cx="451.9" cy="89.6" r="2.2" fill="#111"/>
<circle cx="451.9" cy="103.0" r="2.2" fill="#111"/>
<circle cx="451.9" cy="116.4" r="2.2" fill="#111"/>
<circle cx="451.9" cy="129.8" r="2.2" fill="#111"/>
<circle cx="451.9" cy="143.2" r="2.2" fill="#111"/>
<circle cx="451.9" cy="156.6" r="2.2" fill="#111"/>
<circle cx="451.9" cy="170.0" r="2.2" fill="#111"/>
<circle cx="451.9" cy="183.4" r="2.2" fill="#111"/>
<circle cx="451.9" cy="196.8" r="2.2" fill="#111"/>
<circle cx="451.9" cy="210.2" r="2.2" fill="#111"/>
<circle cx="451.9" cy="223.6" r="2.2" fill="#111"/>
<circle cx="451.9" cy="237.0" r="2.2" fill="#111"/>
<circle cx="451.9" cy="250.4" r="2.2" fill="#111"/>
<circle cx="451.9" cy="263.8" r="2.2" fill="#111"/>
<circle cx="451.9" cy="277.2" r="2.2" fill="#111"/>
<circle cx="451.9" cy="290.6" r="2.2" fill="#111"/>
<circle cx="451.9" cy="304.0" r="2.2" fill="#111"/>
<circle cx="451.9" cy="317.4" r="2.2" fill="#111"/>
<circle cx="451.9" cy="330.8" r="2.2" fill="#111"/>
<text transform="translate(152.3 167.9) scale(0.92 1)" font-size="8.9" fill="#1a1a1a" stroke="#1a1a1a" stroke-width="0.25">Tx Group X Time</text>
<text x="218.8" y="166.9" font-size="9.5" font-weight="normal" text-anchor="middle" fill="#111" stroke="#111" stroke-width="0.3">*</text>
<text x="208.5" y="123.3" font-size="9" font-weight="normal" text-anchor="middle" fill="#111" >*</text>
</svg>
</body></html>
